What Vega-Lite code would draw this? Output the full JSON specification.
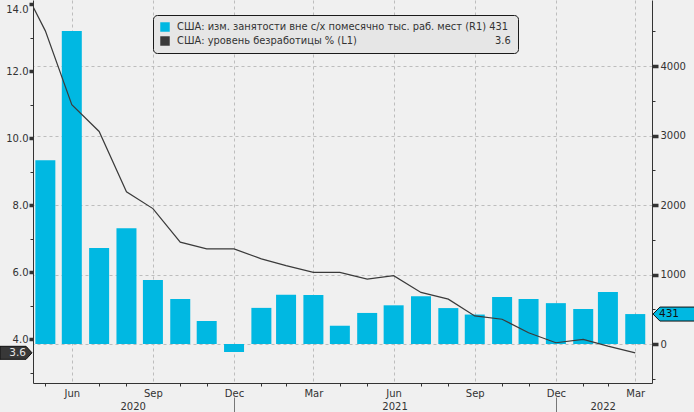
{
  "$schema": "https://vega.github.io/schema/vega-lite/v6.json",
  "width": 619,
  "height": 383,
  "autosize": {"type": "none"},
  "padding": {"left": 33, "top": 0, "right": 42, "bottom": 29},
  "background": "#f0f0f0",
  "config": {
    "font": "DejaVu Sans",
    "view": {"stroke": null},
    "axis": {"labelFont": "DejaVu Sans", "labelFontSize": 10, "labelColor": "#333333", "domainColor": "#333333", "tickColor": "#333333", "title": null, "labelOverlap": false, "labelFlush": false, "labelBound": false},
    "legend": {"labelFont": "DejaVu Sans"}
  },
  "data": {
    "values": [
      {"date": "2020-04-30", "unemp": 14.8, "payrolls": null},
      {"date": "2020-05-31", "unemp": 13.2, "payrolls": 2645},
      {"date": "2020-06-30", "unemp": 11.0, "payrolls": 4505},
      {"date": "2020-07-31", "unemp": 10.2, "payrolls": 1380},
      {"date": "2020-08-31", "unemp": 8.4, "payrolls": 1665},
      {"date": "2020-09-30", "unemp": 7.9, "payrolls": 920},
      {"date": "2020-10-31", "unemp": 6.9, "payrolls": 648},
      {"date": "2020-11-30", "unemp": 6.7, "payrolls": 331},
      {"date": "2020-12-31", "unemp": 6.7, "payrolls": -115},
      {"date": "2021-01-31", "unemp": 6.4, "payrolls": 520},
      {"date": "2021-02-28", "unemp": 6.2, "payrolls": 710},
      {"date": "2021-03-31", "unemp": 6.0, "payrolls": 704},
      {"date": "2021-04-30", "unemp": 6.0, "payrolls": 263},
      {"date": "2021-05-31", "unemp": 5.8, "payrolls": 447},
      {"date": "2021-06-30", "unemp": 5.9, "payrolls": 557},
      {"date": "2021-07-31", "unemp": 5.4, "payrolls": 689},
      {"date": "2021-08-31", "unemp": 5.2, "payrolls": 517},
      {"date": "2021-09-30", "unemp": 4.7, "payrolls": 424},
      {"date": "2021-10-31", "unemp": 4.6, "payrolls": 677},
      {"date": "2021-11-30", "unemp": 4.2, "payrolls": 647},
      {"date": "2021-12-31", "unemp": 3.9, "payrolls": 588},
      {"date": "2022-01-31", "unemp": 4.0, "payrolls": 504},
      {"date": "2022-02-28", "unemp": 3.8, "payrolls": 750},
      {"date": "2022-03-31", "unemp": 3.6, "payrolls": 431}
    ]
  },
  "layer": [
    {
      "resolve": {"axis": {"x": "independent", "y": "independent"}},
      "layer": [
        {
          "transform": [{"filter": "datum.payrolls != null"}],
          "mark": {"type": "bar", "width": 20},
          "encoding": {
            "x": {
              "field": "date", "type": "temporal",
              "scale": {"type": "utc", "nice": false, "padding": 0, "domain": [{"year": 2020, "month": 5, "date": 17, "utc": true}, {"year": 2022, "month": 4, "date": 19, "utc": true}]},
              "axis": {
                "orient": "bottom",
                "values": [
                  {"year": 2020, "month": 6, "date": 30, "utc": true}, {"year": 2020, "month": 9, "date": 30, "utc": true},
                  {"year": 2020, "month": 12, "date": 31, "utc": true}, {"year": 2021, "month": 3, "date": 31, "utc": true},
                  {"year": 2021, "month": 6, "date": 30, "utc": true}, {"year": 2021, "month": 9, "date": 30, "utc": true},
                  {"year": 2021, "month": 12, "date": 31, "utc": true}, {"year": 2022, "month": 3, "date": 31, "utc": true}
                ],
                "labelExpr": "utcFormat(datum.value, '%b')",
                "ticks": false,
                "grid": true,
                "gridDash": [3, 3],
                "gridColor": "#bdbdbd",
                "labelPadding": 5
              }
            },
            "y": {
              "field": "payrolls", "type": "quantitative",
              "scale": {"domain": [-561, 4950], "nice": false, "zero": false, "padding": 0},
              "axis": {
                "orient": "right",
                "values": [0, 1000, 2000, 3000, 4000],
                "format": "d",
                "tickSize": 6,
                "tickWidth": 3.5,
                "grid": true,
                "gridDash": [3, 3],
                "gridColor": "#bdbdbd",
                "labelPadding": 2
              }
            },
            "color": {
              "datum": "США: изм. занятости вне с/х помесячно тыс. раб. мест (R1) 431",
              "type": "nominal",
              "scale": {
                "domain": ["США: изм. занятости вне с/х помесячно тыс. раб. мест (R1) 431", "США: уровень безработицы % (L1)\u00a0\u00a0\u00a0\u00a0\u00a0\u00a0\u00a0\u00a0\u00a0\u00a0\u00a0\u00a0\u00a0\u00a0\u00a0\u00a0\u00a0\u00a0\u00a0\u00a0\u00a0\u00a0\u00a0\u00a0\u00a0\u00a0\u00a0\u00a0\u00a0\u00a0\u00a0\u00a0\u00a0\u00a0\u00a0\u00a0\u00a0\u00a0\u00a0\u00a0\u00a0\u00a0\u00a0\u00a03.6"],
                "range": ["#00b8e2", "#3a3a3a"]
              },
              "legend": {
                "title": null,
                "orient": "none",
                "legendX": 120,
                "legendY": 15,
                "symbolType": "square",
                "symbolSize": 90,
                "symbolStrokeWidth": 0,
                "labelFontSize": 9.9,
                "labelColor": "#333333",
                "labelLimit": 0,
                "labelOffset": 7,
                "fillColor": "#e6e6e6",
                "strokeColor": "#1a1a1a",
                "cornerRadius": 4,
                "padding": 7,
                "rowPadding": 4
              }
            }
          }
        },
        {
          "transform": [{"filter": "datum.payrolls != null"}],
          "mark": {"type": "tick", "opacity": 0},
          "encoding": {
            "x": {
              "field": "date", "type": "temporal",
              "axis": {
                "orient": "bottom",
                "values": [
                  {"year": 2020, "month": 5, "date": 31, "utc": true},
                  {"year": 2020, "month": 7, "date": 31, "utc": true}, {"year": 2020, "month": 8, "date": 31, "utc": true},
                  {"year": 2020, "month": 10, "date": 31, "utc": true}, {"year": 2020, "month": 11, "date": 30, "utc": true},
                  {"year": 2021, "month": 1, "date": 31, "utc": true}, {"year": 2021, "month": 2, "date": 28, "utc": true},
                  {"year": 2021, "month": 4, "date": 30, "utc": true}, {"year": 2021, "month": 5, "date": 31, "utc": true},
                  {"year": 2021, "month": 7, "date": 31, "utc": true}, {"year": 2021, "month": 8, "date": 31, "utc": true},
                  {"year": 2021, "month": 10, "date": 31, "utc": true}, {"year": 2021, "month": 11, "date": 30, "utc": true},
                  {"year": 2022, "month": 1, "date": 31, "utc": true}, {"year": 2022, "month": 2, "date": 28, "utc": true}
                ],
                "labels": false,
                "domain": false,
                "grid": false,
                "tickSize": 3
              }
            },
            "y": {
              "field": "payrolls", "type": "quantitative",
              "axis": {
                "orient": "right",
                "values": [-500, 500, 1500, 2500, 3500, 4500],
                "labels": false,
                "domain": false,
                "grid": false,
                "tickSize": 3,
                "tickWidth": 1
              }
            }
          }
        },
        {
          "transform": [
            {"joinaggregate": [{"op": "max", "field": "date", "as": "maxd"}]},
            {"filter": "time(datum.date) === time(datum.maxd)"}
          ],
          "mark": {"type": "point", "shape": "M0.023,0L0.18,-0.159L1.02,-0.159L1.02,0.159L0.18,0.159Z", "size": 7744, "filled": true, "fill": "#00b8e2", "stroke": "#111111", "strokeWidth": 1, "opacity": 1},
          "encoding": {
            "x": {"datum": {"year": 2022, "month": 4, "date": 19, "utc": true}, "type": "temporal", "axis": null},
            "y": {"field": "payrolls", "type": "quantitative", "axis": null}
          }
        },
        {
          "transform": [
            {"joinaggregate": [{"op": "max", "field": "date", "as": "maxd"}]},
            {"filter": "time(datum.date) === time(datum.maxd)"}
          ],
          "mark": {"type": "text", "align": "left", "baseline": "middle", "dx": 7, "fontSize": 10.5, "color": "#111111"},
          "encoding": {
            "x": {"datum": {"year": 2022, "month": 4, "date": 19, "utc": true}, "type": "temporal", "axis": null},
            "y": {"field": "payrolls", "type": "quantitative", "axis": null},
            "text": {"field": "payrolls", "type": "quantitative", "format": "d"}
          }
        }
      ]
    },
    {
      "resolve": {"axis": {"x": "independent", "y": "independent"}},
      "layer": [
        {
          "mark": {"type": "line", "color": "#3a3a3a", "strokeWidth": 1.2, "clip": true},
          "encoding": {
            "x": {
              "field": "date", "type": "temporal",
              "axis": {
                "orient": "bottom",
                "values": [{"year": 2020, "month": 9, "date": 7, "utc": true}, {"year": 2021, "month": 7, "date": 1, "utc": true}, {"year": 2022, "month": 2, "date": 22, "utc": true}],
                "labelExpr": "utcFormat(datum.value, '%Y')",
                "ticks": false,
                "domain": false,
                "grid": false,
                "offset": 13,
                "labelPadding": 5
              }
            },
            "y": {
              "field": "unemp", "type": "quantitative",
              "scale": {"domain": [2.7, 14.12], "nice": false, "zero": false},
              "axis": {
                "orient": "left",
                "values": [4, 6, 8, 10, 12, 14],
                "format": ".1f",
                "tickSize": 4,
                "tickWidth": 3.5,
                "grid": false,
                "labelPadding": 1,
                "labelFlush": 6
              }
            }
          }
        },
        {
          "mark": {"type": "tick", "opacity": 0},
          "encoding": {
            "x": {
              "field": "date", "type": "temporal",
              "axis": {
                "orient": "bottom",
                "values": [{"year": 2020, "month": 12, "date": 31, "utc": true}, {"year": 2021, "month": 12, "date": 31, "utc": true}],
                "labels": false,
                "domain": false,
                "grid": false,
                "ticks": true,
                "tickSize": 15,
                "tickColor": "#777777",
                "offset": 14
              }
            },
            "y": {
              "field": "unemp", "type": "quantitative",
              "axis": {
                "orient": "left",
                "values": [3, 5, 7, 9, 11, 13],
                "labels": false,
                "domain": false,
                "grid": false,
                "tickSize": 3,
                "tickWidth": 1
              }
            }
          }
        },
        {
          "transform": [
            {"joinaggregate": [{"op": "max", "field": "date", "as": "maxd"}]},
            {"filter": "time(datum.date) === time(datum.maxd)"}
          ],
          "mark": {"type": "point", "shape": "M-1,-0.197L-0.21,-0.197L-0.03,0L-0.21,0.197L-1,0.197Z", "size": 4356, "filled": true, "fill": "#383838", "stroke": "#111111", "strokeWidth": 1, "opacity": 1},
          "encoding": {
            "x": {"datum": {"year": 2020, "month": 5, "date": 17, "utc": true}, "type": "temporal", "axis": null},
            "y": {"field": "unemp", "type": "quantitative", "axis": null}
          }
        },
        {
          "transform": [
            {"joinaggregate": [{"op": "max", "field": "date", "as": "maxd"}]},
            {"filter": "time(datum.date) === time(datum.maxd)"}
          ],
          "mark": {"type": "text", "align": "right", "baseline": "middle", "dx": -7, "fontSize": 10.5, "color": "#e6e6e6"},
          "encoding": {
            "x": {"datum": {"year": 2020, "month": 5, "date": 17, "utc": true}, "type": "temporal", "axis": null},
            "y": {"field": "unemp", "type": "quantitative", "axis": null},
            "text": {"field": "unemp", "type": "quantitative", "format": ".1f"}
          }
        }
      ]
    }
  ],
  "resolve": {"scale": {"y": "independent"}, "axis": {"x": "independent", "y": "independent"}}
}
